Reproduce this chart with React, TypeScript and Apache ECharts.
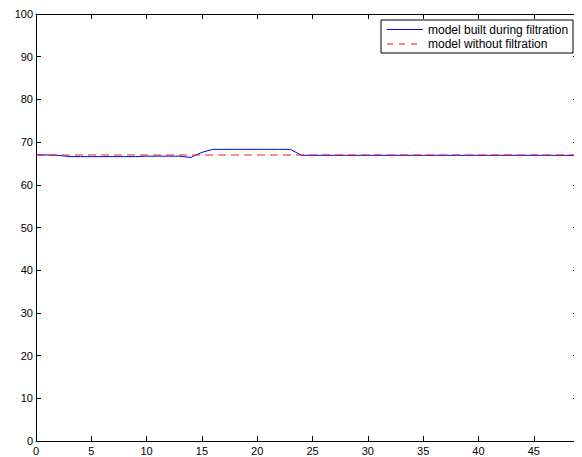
import React, { useEffect, useRef } from "react";
import * as echarts from "echarts";

const xValues: number[] = Array.from({ length: 50 }, (_, i) => i);
const blueValues: number[] = [
  67.0, 67.0, 66.9, 66.6, 66.6, 66.6, 66.6, 66.6, 66.6, 66.6,
  66.7, 66.7, 66.7, 66.7, 66.4, 67.6, 68.3, 68.3, 68.3, 68.3,
  68.3, 68.3, 68.3, 68.3, 66.9, 66.9, 66.9, 66.9, 66.9, 66.9,
  66.9, 66.9, 66.9, 66.9, 66.9, 66.9, 66.9, 66.9, 66.9, 66.9,
  66.9, 66.9, 66.9, 66.9, 66.9, 66.9, 66.9, 66.9, 66.9, 66.9,
];
const redValues: number[] = xValues.map(() => 67.0);
const seriesNames = ["model built during filtration", "model without filtration"];

export default function App() {
  const ref = useRef<HTMLDivElement>(null);
  useEffect(() => {
    if (!ref.current) return;
    const chart = echarts.init(ref.current, null, { renderer: "svg" });
    const font = "Liberation Sans, Arial, sans-serif";
    const axisCommon = {
      axisLine: { show: true, onZero: false, lineStyle: { color: "#000", width: 1 } },
      axisTick: { show: true, inside: true, length: 5, lineStyle: { color: "#000" } },
      splitLine: { show: false },
    };
    const blueStyle = { color: "#0000ff", width: 1 };
    const redStyle = { color: "#ff0000", width: 1.5, type: [8, 5], opacity: 0.6 };
    chart.setOption({
      animation: false,
      backgroundColor: "#fff",
      grid: { left: 36, top: 14, right: 4, bottom: 16, containLabel: false },
      graphic: [
        {
          type: "rect",
          shape: { x: 381, y: 20, width: 192, height: 33 },
          style: { fill: "#fff", stroke: "#000", lineWidth: 1 },
          z: 100,
        },
        {
          type: "line",
          shape: { x1: 387, y1: 29.5, x2: 423, y2: 29.5 },
          style: { stroke: "#0000ff", lineWidth: 1 },
          z: 101,
        },
        {
          type: "line",
          shape: { x1: 387, y1: 44, x2: 423, y2: 44 },
          style: { stroke: "#ff0000", lineWidth: 1, lineDash: [6, 6] },
          z: 101,
        },
        {
          type: "text",
          x: 428,
          y: 29.5,
          style: {
            text: seriesNames[0],
            font: `12px ${font}`,
            fill: "#000",
            verticalAlign: "middle",
            align: "left",
          },
          z: 101,
        },
        {
          type: "text",
          x: 428,
          y: 44,
          style: {
            text: seriesNames[1],
            font: `12px ${font}`,
            fill: "#000",
            verticalAlign: "middle",
            align: "left",
          },
          z: 101,
        },
      ],
      xAxis: [
        {
          type: "value",
          min: 0,
          max: 49,
          interval: 5,
          position: "bottom",
          ...axisCommon,
          axisLabel: {
            color: "#000",
            fontFamily: font,
            fontSize: 11,
            margin: 4,
            showMaxLabel: false,
          },
        },
        {
          type: "value",
          min: 0,
          max: 49,
          interval: 5,
          position: "top",
          ...axisCommon,
          axisLabel: { show: false },
        },
      ],
      yAxis: [
        {
          type: "value",
          min: 0,
          max: 100,
          interval: 10,
          position: "left",
          ...axisCommon,
          axisLabel: { color: "#000", fontFamily: font, fontSize: 11, margin: 3 },
        },
        {
          type: "value",
          min: 0,
          max: 100,
          interval: 10,
          position: "right",
          ...axisCommon,
          axisLabel: { show: false },
        },
      ],
      series: [
        {
          name: seriesNames[0],
          type: "line",
          data: xValues.map((x, i) => [x, blueValues[i]]),
          symbol: "none",
          lineStyle: blueStyle,
          itemStyle: { color: "#0000ff" },
          z: 3,
        },
        {
          name: seriesNames[1],
          type: "line",
          data: xValues.map((x, i) => [x, redValues[i]]),
          symbol: "none",
          lineStyle: redStyle,
          itemStyle: { color: "#ff0000" },
          z: 4,
        },
      ],
    });
    return () => chart.dispose();
  }, []);
  return <div ref={ref} style={{ width: 582, height: 457, marginLeft: -8, marginTop: -8 }} />;
}
